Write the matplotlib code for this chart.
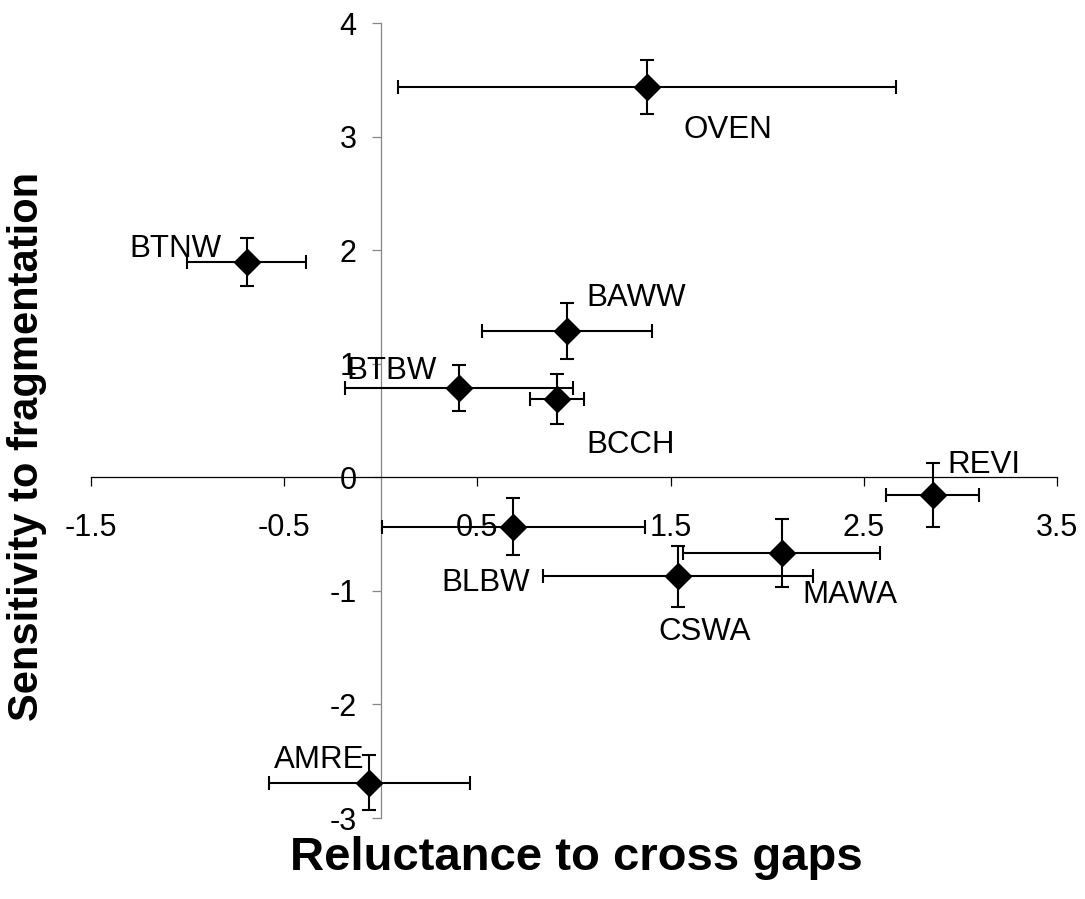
"""Reluctance to cross gaps vs sensitivity to fragmentation, per species."""
import matplotlib

matplotlib.use("Agg")
import matplotlib.pyplot as plt

plt.rcParams["font.family"] = ["Liberation Sans", "DejaVu Sans"]
plt.rcParams["axes.unicode_minus"] = False

species = ["OVEN", "BTNW", "BAWW", "BTBW", "BCCH",
           "REVI", "BLBW", "MAWA", "CSWA", "AMRE"]
reluctance = [1.378, -0.695, 0.964, 0.405, 0.911,
              2.856, 0.685, 2.074, 1.539, -0.060]
reluctance_err = [1.29, 0.31, 0.44, 0.59, 0.14,
                  0.24, 0.68, 0.51, 0.70, 0.52]
sensitivity = [3.437, 1.895, 1.289, 0.788, 0.688,
               -0.156, -0.436, -0.665, -0.871, -2.689]
sensitivity_err = [0.24, 0.21, 0.25, 0.20, 0.22,
                   0.28, 0.25, 0.30, 0.27, 0.24]

x_ticks = [-1.5, -0.5, 0.5, 1.5, 2.5, 3.5]
y_ticks = [-3, -2, -1, 0, 1, 2, 3, 4]

# text placement relative to each marker, in pixels (left / top of the name)
label_offsets = {
    "OVEN": (36, -28), "BTNW": (-117, 28), "BAWW": (19, 48),
    "BTBW": (-113, 32), "BCCH": (30, -31), "REVI": (15, 45),
    "BLBW": (-72, -41), "MAWA": (21, -27), "CSWA": (-20, -41),
    "AMRE": (-95, 38),
}

fig = plt.figure(figsize=(10.85, 8.99), dpi=100)
ax = fig.add_axes([0.0839, 0.0901, 0.8903, 0.8843])

ax.errorbar(reluctance, sensitivity, xerr=reluctance_err, yerr=sensitivity_err,
            fmt="none", ecolor="black", elinewidth=1.5, capsize=5,
            capthick=1.5, zorder=3, clip_on=False)
ax.plot(reluctance, sensitivity, "D", color="black", markersize=13.5,
        zorder=4, clip_on=False)

for name, x, y in zip(species, reluctance, sensitivity):
    ax.annotate(name, (x, y), xytext=label_offsets[name],
                textcoords="offset pixels", ha="left", va="top",
                fontsize=22.5, zorder=5)

ax.set_xlim(-1.5, 3.5)
ax.set_ylim(-3, 4)
ax.set_xticks(x_ticks)
ax.set_xticklabels([f"{v:g}" for v in x_ticks])
ax.set_yticks(y_ticks)
ax.set_yticklabels([f"{v:g}" for v in y_ticks])

for side in ("top", "right"):
    ax.spines[side].set_visible(False)
ax.spines["left"].set_position(("data", 0))
ax.spines["bottom"].set_position(("data", 0))
ax.spines["left"].set_color("#868686")
ax.spines["left"].set_linewidth(0.9)
ax.spines["bottom"].set_linewidth(0.9)

ax.tick_params(axis="x", direction="out", length=6.5, width=0.9,
               pad=19, labelsize=22)
ax.tick_params(axis="y", direction="out", length=6.5, width=0.9,
               pad=11, labelsize=22, color="#868686")

fig.text(0.531, 0.046, "Reluctance to cross gaps", ha="center", va="center",
         fontsize=34, fontweight="bold")
fig.text(0.025, 0.503, "Sensitivity to fragmentation", ha="center",
         va="center", rotation=90, fontsize=30, fontweight="bold")

fig.savefig("out.png", dpi=100)
